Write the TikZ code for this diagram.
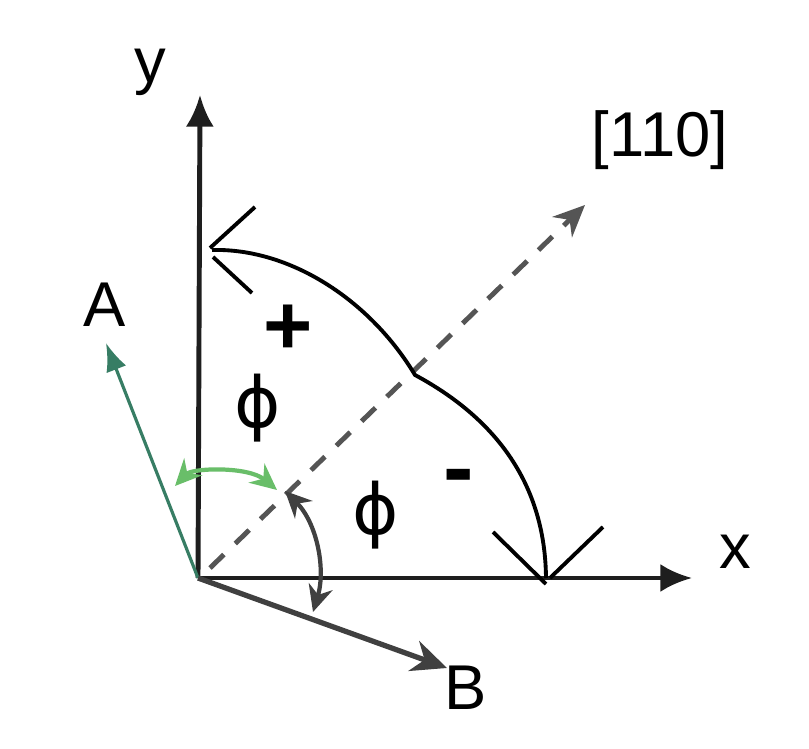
\documentclass[tikz,border=0pt]{standalone}
\usepackage{fontspec}
\setmainfont{Liberation Sans}
\newfontfamily\phifont{DejaVu Sans}
\usetikzlibrary{arrows.meta}
\definecolor{AxisDark}{RGB}{30,30,30}
\definecolor{DiagGray}{RGB}{85,85,85}
\definecolor{ATeal}{RGB}{55,125,100}
\definecolor{ArcGreen}{RGB}{105,190,105}

\begin{document}
\begin{tikzpicture}[x=0.01cm, y=-0.01cm, >=Stealth, font=\fontsize{18}{21}\selectfont]
    \tikzstyle{axis} = [line width=1.4pt, color=AxisDark, -{Latex[length=9pt,width=8pt]}]
    \tikzstyle{diag} = [line width=1.4pt, color=DiagGray, dash pattern=on 5.5pt off 4.5pt, -{Stealth[length=9pt,width=8pt]}]
    \tikzstyle{vec} = [line width=0.9pt, -{Latex[length=8pt,width=6pt]}]
    \tikzstyle{angarc} = [line width=1.2pt, {Stealth[length=7.5pt,width=7pt]}-{Stealth[length=7.5pt,width=7pt]}]
    \tikzstyle{rot} = [line width=1.1pt, color=black]
    \tikzstyle{lbl} = [inner sep=0pt]

    \useasboundingbox (0,0) rectangle (809,749);
    \fill[white] (0,0) rectangle (809,749);

    % axes and directions
    \coordinate (O) at (198,578);
    \coordinate (yend) at (200,95);
    \coordinate (xend) at (692,578);
    \coordinate (dstart) at (210,568);
    \coordinate (dend) at (585,205);
    \coordinate (Aend) at (106,343);
    \coordinate (Bend) at (447,668);

    \draw [axis] (O) -- (yend);
    \draw [axis] (O) -- (xend);
    \draw [diag] (dstart) -- (dend);
    \draw [vec, color=ATeal] (O) -- (Aend);
    \draw [vec, line width=1.5pt, color=AxisDark!85, -{Stealth[length=10pt,width=9pt]}] (O) -- (Bend);

    \node [lbl] (ylab) at (150,72) {y};
    \node [lbl] (xlab) at (735,552) {x};
    \node [lbl] (dirlab) at (660,140) {[110]};
    \node [lbl] (alab) at (105,305) {A};
    \node [lbl] (blab) at (466,688) {B};

    % angle markers
    \coordinate (g1) at (175,486);
    \coordinate (g2) at (277,490);
    \coordinate (k1) at (285,491);
    \coordinate (k2) at (313,612);
    \draw [angarc, color=ArcGreen] (g1) .. controls (192,468) and (248,466) .. (g2);
    \draw [angarc, color=AxisDark!85] (k1) .. controls (317,523) and (326,569) .. (k2);

    \node [lbl] (phi1) at (258,408) {\phifont\fontsize{20}{22}\selectfont ϕ};
    \node [lbl] (phi2) at (376,515) {\phifont\fontsize{20}{22}\selectfont ϕ};

    % rotation sense
    \coordinate (rtop) at (212,250);
    \coordinate (rmid) at (415,375);
    \coordinate (rbot) at (546,578);
    \draw [rot] (rtop) .. controls (290,248) and (370,300) .. (rmid)
        .. controls (480,410) and (545,470) .. (rbot);
    \draw [rot] (255,207) -- (210,248);
    \draw [rot] (213,257) -- (252,293);
    \draw [rot] (493,532) -- (546,584);
    \draw [rot] (603,527) -- (550,578);

    \node [lbl] (plus) at (288,330) {\fontsize{24}{26}\selectfont\textbf{+}};
    \node [lbl] (minus) at (459,484) {\fontsize{26}{28}\selectfont\textbf{-}};
\end{tikzpicture}
\end{document}
